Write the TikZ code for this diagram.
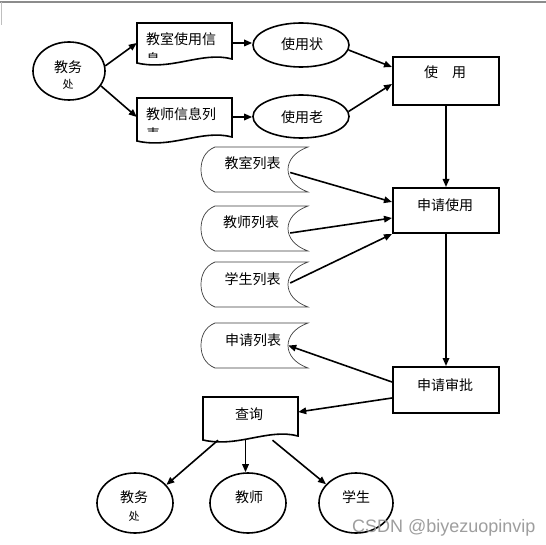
\documentclass[tikz,border=0pt]{standalone}
\usepackage{fontspec}
\setmainfont{Liberation Sans}
\newfontfamily\cjk{Noto Sans CJK SC}
\usetikzlibrary{shapes.geometric,arrows.meta}

% document shape: x-left, y-top, x-right, y-bottom-left
\newcommand\DocShape[4]{%
  \draw[line width=1.6pt, line join=miter] (#1,#2) -- (#3,#2) -- (#3,{#4-4})
    .. controls ({#3-30},{#4-12}) and ({#1+35},{#4+8}) .. (#1,#4) -- cycle;}
% stored-data shape: y-top
\newcommand\StoreShape[1]{%
  \draw[line width=0.7pt, draw=black!75] (215,#1) -- (308,#1)
    .. controls (294,{#1+5}) and (288,{#1+14}) .. (288,{#1+22.5})
    .. controls (288,{#1+31}) and (294,{#1+40}) .. (308,{#1+45})
    -- (215,{#1+45})
    .. controls (205,{#1+41}) and (201,{#1+32}) .. (201,{#1+22.5})
    .. controls (201,{#1+13}) and (205,{#1+4}) .. (215,#1) -- cycle;}

\begin{document}
\begin{tikzpicture}[x=1pt,y=-1pt,
  every node/.style={inner sep=0pt},
  lbl/.style={font=\cjk\fontsize{14}{14}\selectfont},
  sml/.style={font=\cjk\fontsize{11}{11}\selectfont},
  box/.style={draw, line width=2pt, rectangle, minimum width=106pt},
  ell/.style={draw, ellipse, line width=1.6pt},
  area/.style={rectangle},
  arr/.style={line width=1.6pt, -{Triangle[length=8pt,width=6.5pt]}},
]
\fill[white] (0,0) rectangle (546,545);
\useasboundingbox (0,0) rectangle (546,545);
\draw[black!45, line width=1.2pt] (0,2) -- (546,2);
\draw[black!25, line width=0.8pt] (1,2) -- (1,25);

% top-left actor
\node[ell, minimum width=72pt, minimum height=58pt] (jwc) at (69,71) {};
\node[lbl] at (68,67) {教务};
\node[sml] at (68,84) {处};

% documents
\node[area, minimum width=95pt, minimum height=40pt] (doc1) at (184.5,43) {};
\DocShape{137}{23}{232}{63}
\begin{scope}
  \clip (137,23) rectangle (232,57.5);
  \node[lbl, anchor=west] at (146,39.5) {教室使用信};
  \node[lbl, anchor=west] at (146,59.2) {息};
\end{scope}

\node[area, minimum width=95pt, minimum height=38pt] (doc2) at (184.5,117) {};
\DocShape{137}{98}{232}{141}
\begin{scope}
  \clip (137,98) rectangle (232,131.5);
  \node[lbl, anchor=west] at (146,114.5) {教师信息列};
  \node[lbl, anchor=west] at (146,134.2) {表};
\end{scope}

% status ellipses
\node[ell, minimum width=96pt, minimum height=44pt] (zyz) at (301,45) {};
\node[lbl] at (302,44) {使用状};
\node[ell, minimum width=96pt, minimum height=43pt] (zyl) at (301,116.5) {};
\node[lbl] at (302,117) {使用老};

% process boxes
\node[box, minimum height=48pt] (use) at (446,81) {};
\node[lbl] at (445,72) {使\hspace{1em}用};
\node[box, minimum height=45pt] (sqsy) at (446,210.5) {};
\node[lbl] at (445,205) {申请使用};
\node[box, minimum height=46pt] (sqsp) at (446,390) {};
\node[lbl] at (445,385) {申请审批};

% stored data
\node[area, minimum width=107pt, minimum height=45pt] (s1) at (254.5,169.5) {};
\StoreShape{147}
\node[lbl] at (252.5,163) {教室列表};
\node[area, minimum width=107pt, minimum height=45pt] (s2) at (254.5,228.5) {};
\StoreShape{206}
\node[lbl] at (251,222) {教师列表};
\node[area, minimum width=107pt, minimum height=45pt] (s3) at (254.5,284.5) {};
\StoreShape{262}
\node[lbl] at (252.5,279) {学生列表};
\node[area, minimum width=107pt, minimum height=45pt] (s4) at (254.5,345.5) {};
\StoreShape{323}
\node[lbl] at (253,340) {申请列表};

% query document
\node[area, minimum width=95pt, minimum height=43pt] (cx) at (250.5,418.5) {};
\DocShape{203}{397}{298}{440}
\node[lbl] at (249,414) {查询};

% bottom actors
\node[ell, minimum width=76pt, minimum height=60pt] (jw2) at (135,503) {};
\node[lbl] at (134,497) {教务};
\node[sml] at (134,516) {处};
\node[ell, minimum width=76pt, minimum height=60pt] (js) at (248,503) {};
\node[lbl] at (249,497) {教师};
\node[ell, minimum width=74pt, minimum height=60pt] (xs) at (356,503) {};
\node[lbl] at (356,497) {学生};

% connectors
\draw[arr] (jwc.8) -- (doc1.west);
\draw[arr] (jwc.-25) -- (doc2.west);
\draw[arr] (doc1.east) -- (doc1.east -| zyz.west);
\draw[arr] (doc2.east) -- (doc2.east -| zyl.west);
\draw[arr] (zyz.-6) -- ([yshift=14pt]use.west);
\draw[arr] (zyl.6) -- ([yshift=-3pt]use.west);
\draw[arr] (use.south) -- (sqsy.north);
\draw[arr] ([xshift=-18pt,yshift=-3pt]s1.east) -- ([yshift=8.5pt]sqsy.west);
\draw[arr] ([xshift=-18pt,yshift=-4.5pt]s2.east) -- ([yshift=-7.5pt]sqsy.west);
\draw[arr] ([xshift=-18pt,yshift=1.5pt]s3.east) -- (sqsy.south west);
\draw[arr] (sqsy.south) -- (sqsp.north);
\draw[arr] ([yshift=8pt]sqsp.west) -- ([xshift=-20pt]s4.east);
\draw[arr] ([yshift=-8pt]sqsp.west) -- ([yshift=6.5pt]cx.east);
\draw[arr] ([xshift=-32.5pt]cx.south) -- (jw2.30);
\draw[arr] ([xshift=-5pt]cx.south) -- ([xshift=-2.5pt]js.north);
\draw[arr] ([xshift=22pt]cx.south) -- (xs.148);

% watermark
\node[anchor=base west, font=\fontsize{18}{18}\selectfont, text=black!38] at (352,532) {CSDN @biyezuopinvip};
\end{tikzpicture}
\end{document}
